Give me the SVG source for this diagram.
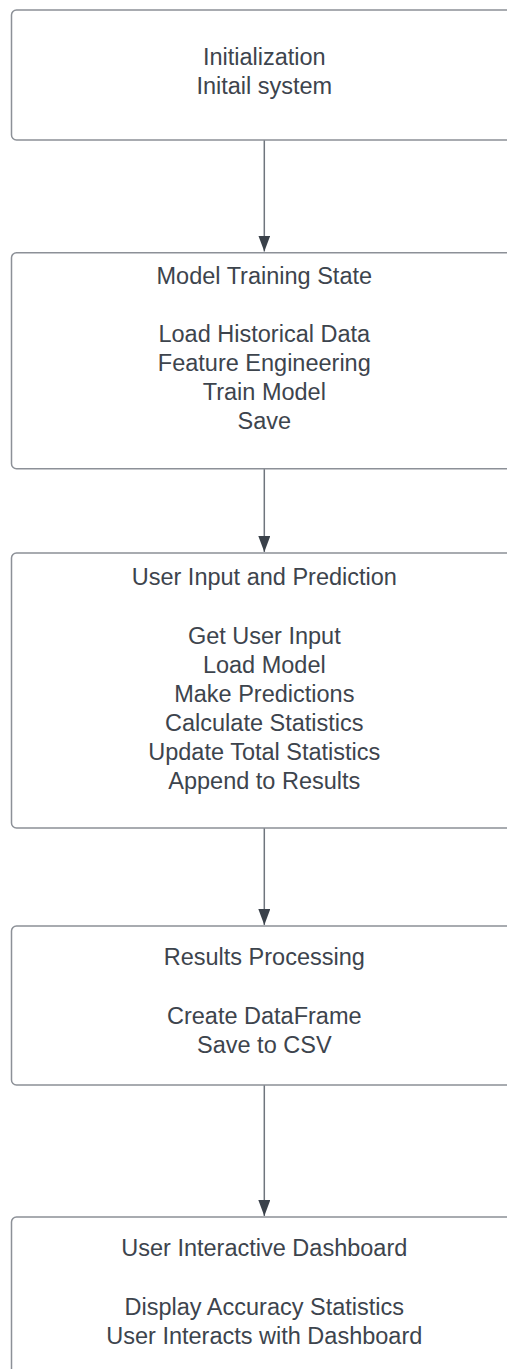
<svg xmlns="http://www.w3.org/2000/svg" width="507" height="1369" viewBox="0 0 507 1369">
  <style>
    .box { fill: #ffffff; stroke: #8c9097; stroke-width: 1.5; }
    .lbl { font-family: "Liberation Sans", Arial, sans-serif; font-size: 23.5px; fill: #3d444d; text-anchor: middle; }
    .wire { stroke: #6f757d; stroke-width: 1.5; fill: none; }
  </style>
  <defs>
    <!-- filled triangular head, pointing along the line direction -->
    <marker id="arrow" viewBox="0 0 16 12" refX="16" refY="6" markerWidth="16" markerHeight="12" markerUnits="userSpaceOnUse" orient="auto">
      <path d="M0,0 L16,6 L0,12 Z" fill="#3a414a"/>
    </marker>
  </defs>
  <rect width="507" height="1369" fill="#ffffff"/>

  <g id="connectors">
    <line class="wire" x1="264.3" y1="140" x2="264.3" y2="251.5" marker-end="url(#arrow)"/>
    <line class="wire" x1="264.3" y1="469" x2="264.3" y2="552" marker-end="url(#arrow)"/>
    <line class="wire" x1="264.3" y1="828" x2="264.3" y2="925" marker-end="url(#arrow)"/>
    <line class="wire" x1="264.3" y1="1085" x2="264.3" y2="1216" marker-end="url(#arrow)"/>
  </g>

  <g id="initialization">
    <rect class="box" x="11.5" y="10" width="506" height="130" rx="5"/>
    <text class="lbl" x="264.3" y="65">Initialization</text>
    <text class="lbl" x="264.3" y="94">Initail system</text>
  </g>

  <g id="model-training">
    <rect class="box" x="11.5" y="252.7" width="506" height="216" rx="5"/>
    <text class="lbl" x="264.3" y="284">Model Training State</text>
    <text class="lbl" x="264.3" y="342">Load Historical Data</text>
    <text class="lbl" x="264.3" y="371">Feature Engineering</text>
    <text class="lbl" x="264.3" y="400">Train Model</text>
    <text class="lbl" x="264.3" y="429">Save</text>
  </g>

  <g id="user-input">
    <rect class="box" x="11.5" y="553" width="506" height="275" rx="5"/>
    <text class="lbl" x="264.3" y="585">User Input and Prediction</text>
    <text class="lbl" x="264.3" y="644">Get User Input</text>
    <text class="lbl" x="264.3" y="673">Load Model</text>
    <text class="lbl" x="264.3" y="702">Make Predictions</text>
    <text class="lbl" x="264.3" y="731">Calculate Statistics</text>
    <text class="lbl" x="264.3" y="760">Update Total Statistics</text>
    <text class="lbl" x="264.3" y="789">Append to Results</text>
  </g>

  <g id="results-processing">
    <rect class="box" x="11.5" y="926" width="506" height="159" rx="5"/>
    <text class="lbl" x="264.3" y="965">Results Processing</text>
    <text class="lbl" x="264.3" y="1024">Create DataFrame</text>
    <text class="lbl" x="264.3" y="1053">Save to CSV</text>
  </g>

  <g id="dashboard">
    <rect class="box" x="11.5" y="1217" width="506" height="170" rx="5"/>
    <text class="lbl" x="264.3" y="1256">User Interactive Dashboard</text>
    <text class="lbl" x="264.3" y="1315">Display Accuracy Statistics</text>
    <text class="lbl" x="264.3" y="1344">User Interacts with Dashboard</text>
  </g>
</svg>
